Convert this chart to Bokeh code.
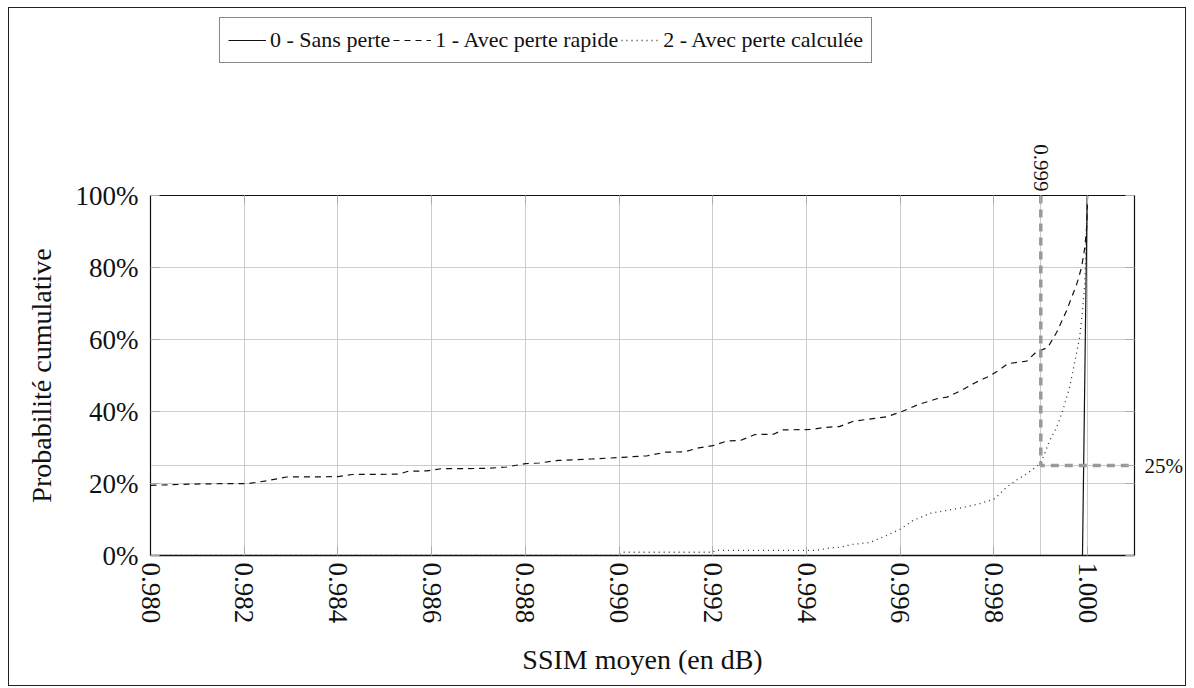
import math
from bokeh.plotting import figure
from bokeh.layouts import column
from bokeh.models import (Range1d, LinearAxis, FixedTicker, PrintfTickFormatter,
                          NumeralTickFormatter, CustomJSTickFormatter, Legend, LegendItem)
from bokeh.embed import file_html
from bokeh.resources import INLINE

# ---------------- data ----------------
x_ticks = [0.980, 0.982, 0.984, 0.986, 0.988, 0.990, 0.992, 0.994, 0.996, 0.998, 1.000]
y_ticks = [0, 20, 40, 60, 80, 100]
marker_ssim = 0.999
marker_prob = 25
x_min, x_max = 0.980, 1.001

ssim_sans = [0.9800, 0.99989, 0.99999, 1.0010]
cdf_sans = [0.0, 0.0, 100.0, 100.0]

ssim_rapide = [0.9800, 0.9811, 0.9821, 0.9825, 0.9829, 0.9840, 0.9843, 0.9853, 0.9855, 0.9859,
               0.9862, 0.9872, 0.9876, 0.9880, 0.9883, 0.9887, 0.9894, 0.9900, 0.9906, 0.9910,
               0.9914, 0.9917, 0.9920, 0.9923, 0.9926, 0.9929, 0.9933, 0.9935, 0.9941, 0.9944,
               0.9947, 0.9950, 0.9957, 0.9960, 0.9964, 0.9968, 0.9970, 0.9973, 0.9976, 0.9979,
               0.9981, 0.9983, 0.9987, 0.9989, 0.99915, 0.99934, 0.99955, 0.99977, 0.99987,
               0.99994, 0.99998, 1.0000]
cdf_rapide = [19.5, 19.9, 20.0, 20.8, 21.8, 21.9, 22.5, 22.6, 23.4, 23.5,
              24.1, 24.2, 24.6, 25.5, 25.7, 26.4, 26.8, 27.2, 27.7, 28.7,
              28.8, 29.9, 30.5, 31.8, 32.0, 33.6, 33.7, 34.9, 35.0, 35.6,
              35.8, 37.3, 38.5, 39.8, 42.0, 43.6, 44.0, 45.8, 48.0, 49.8,
              51.4, 53.3, 54.0, 56.5, 57.8, 62.0, 68.0, 75.5, 80.0,
              85.6, 91.2, 100.0]

ssim_calc = [0.9800, 0.9900, 0.99004, 0.9920, 0.99205, 0.9942, 0.99450, 0.99471, 0.99499, 0.99535,
             0.99557, 0.99599, 0.99627, 0.99663, 0.99733, 0.99770, 0.99802, 0.99827, 0.99849,
             0.99870, 0.99891, 0.99902, 0.99919, 0.99934, 0.99947, 0.99962, 0.99983, 0.99989,
             0.99994, 0.99996, 0.99998, 1.0000]
cdf_calc = [0.0, 0.0, 0.9, 0.9, 1.4, 1.4, 2.1, 2.3, 3.1, 3.6,
            4.8, 7.2, 9.7, 11.7, 13.3, 14.4, 15.8, 19.0, 21.0,
            22.7, 24.7, 26.2, 32.0, 35.6, 40.3, 47.0, 60.6, 68.0,
            75.5, 84.7, 94.0, 100.0]

labels = ["0 - Sans perte", "1 - Avec perte rapide", "2 - Avec perte calculée"]
series_x = [ssim_sans, ssim_rapide, ssim_calc]
series_y = [cdf_sans, cdf_rapide, cdf_calc]

SERIF = "Liberation Serif"
INK = "#111111"
TICK = "#aaaaaa"
styles_series = [dict(line_color=INK, line_width=1.2),
                 dict(line_color=INK, line_width=1.2, line_dash="6 5"),
                 dict(line_color="#333333", line_width=1.3, line_dash="1 4")]

W = 1176
LEG_H = 70

# ---------------- legend strip (frames are aligned with the main plot) ----------------
pl = figure(width=W, height=LEG_H, x_range=Range1d(x_min, x_max), y_range=Range1d(-1, -0.5),
            output_backend="svg", toolbar_location=None, x_axis_type=None, y_axis_type=None,
            min_border=0)
pl.outline_line_color = None
pl.grid.visible = False
pl.background_fill_color = "white"
pl.border_fill_color = "white"
leg_renderers = [pl.line(sx, sy, **st) for sx, sy, st in zip(series_x, series_y, styles_series)]
legend = Legend(items=[LegendItem(label=lab, renderers=[r]) for lab, r in zip(labels, leg_renderers)],
                orientation="horizontal", location=(69, 15),
                label_text_font=SERIF, label_text_font_size="22px",
                label_text_font_style="normal", label_text_color=INK,
                border_line_color=INK, border_line_width=1, background_fill_alpha=1,
                padding=8, spacing=3, label_standoff=4, glyph_width=38, glyph_height=28,
                label_height=28, margin=0, inactive_fill_alpha=0)
pl.add_layout(legend)

# ---------------- main figure ----------------
p = figure(width=W, height=677 - LEG_H, x_range=Range1d(x_min, x_max), y_range=Range1d(0, 100),
           output_backend="svg", toolbar_location=None,
           min_border_left=141, min_border_right=50, min_border_top=117, min_border_bottom=130,
           x_axis_label="SSIM moyen (en dB)", y_axis_label="Probabilité cumulative")
p.background_fill_color = "white"
p.border_fill_color = "white"
p.outline_line_color = INK
p.outline_line_width = 1.2

# grids
p.xgrid.ticker = FixedTicker(ticks=x_ticks + [marker_ssim])
p.ygrid.ticker = FixedTicker(ticks=y_ticks + [marker_prob])
for g in (p.xgrid, p.ygrid):
    g.grid_line_color = "#cccccc"
    g.grid_line_width = 1

# bottom axis
xa = p.xaxis[0]
xa.ticker = FixedTicker(ticks=x_ticks)
xa.formatter = NumeralTickFormatter(format="0.000")
xa.major_label_orientation = -math.pi / 2
xa.major_label_text_font = SERIF
xa.major_label_text_font_size = "27px"
xa.major_label_text_color = INK
xa.major_label_standoff = 7
xa.axis_label_text_font = SERIF
xa.axis_label_text_font_size = "28px"
xa.axis_label_text_font_style = "normal"
xa.axis_label_text_color = INK
xa.axis_label_standoff = 18
xa.axis_line_color = INK
xa.axis_line_width = 1.5
xa.major_tick_in = 9
xa.major_tick_out = 0
xa.major_tick_line_color = TICK
xa.minor_tick_line_color = None

# left axis
ya = p.yaxis[0]
ya.ticker = FixedTicker(ticks=y_ticks)
ya.formatter = PrintfTickFormatter(format="%d%%")
ya.major_label_text_font = SERIF
ya.major_label_text_font_size = "27px"
ya.major_label_text_color = INK
ya.major_label_standoff = 12
ya.axis_label_text_font = SERIF
ya.axis_label_text_font_size = "28px"
ya.axis_label_text_font_style = "normal"
ya.axis_label_text_color = INK
ya.axis_label_standoff = 16
ya.axis_line_color = INK
ya.major_tick_in = 9
ya.major_tick_out = 0
ya.major_tick_line_color = TICK
ya.minor_tick_line_color = None

# top axis: mirrored ticks + marker label
top = LinearAxis(ticker=FixedTicker(ticks=x_ticks + [marker_ssim]),
                 formatter=CustomJSTickFormatter(
                     args=dict(m=marker_ssim),
                     code="return Math.abs(tick - m) < 1e-9 ? tick.toFixed(3) : '';"))
top.major_label_orientation = -math.pi / 2
top.major_label_text_font = SERIF
top.major_label_text_font_size = "21px"
top.major_label_text_color = INK
top.major_label_standoff = 4
top.axis_line_color = None
top.major_tick_in = 9
top.major_tick_out = 0
top.major_tick_line_color = TICK
top.minor_tick_line_color = None
p.add_layout(top, "above")

# right axis: mirrored ticks + marker label
right = LinearAxis(ticker=FixedTicker(ticks=y_ticks + [marker_prob]),
                   formatter=CustomJSTickFormatter(
                       args=dict(m=marker_prob),
                       code="return Math.abs(tick - m) < 1e-9 ? tick.toFixed(0) + '%' : '';"))
right.major_label_text_font = SERIF
right.major_label_text_font_size = "21px"
right.major_label_text_color = INK
right.major_label_standoff = 10
right.major_tick_in = 9
right.major_tick_out = 0
right.major_tick_line_color = TICK
right.minor_tick_line_color = None
right.axis_line_color = None
p.add_layout(right, "right")

# series
for sx, sy, st in zip(series_x, series_y, styles_series):
    p.line(sx, sy, **st)

# marker guide lines
p.line([marker_ssim, marker_ssim, x_max], [100, marker_prob, marker_prob],
       line_color="#999999", line_width=3.5, line_dash="8 6")

layout = column(pl, p, spacing=0,
                styles={"border": "1px solid #222222", "margin-left": "8px", "margin-top": "7px"})

open("out.html", "w").write(file_html(layout, INLINE))
